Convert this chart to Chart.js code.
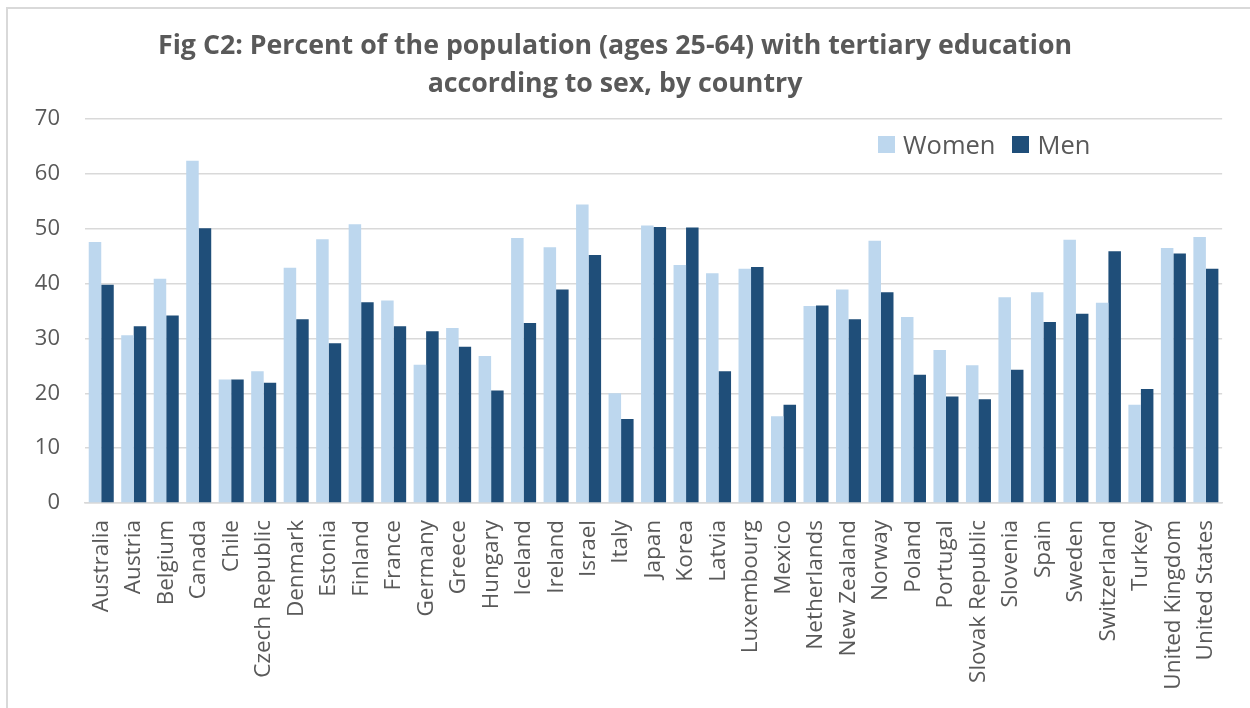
<!DOCTYPE html>
<html>
<head>
<meta charset="utf-8">
<script src="https://cdn.jsdelivr.net/npm/chart.js@4"></script>
<style>
html,body{margin:0;padding:0;background:#fff;overflow:hidden;}
#wrap{position:relative;width:1250px;height:708px;}
#frame{position:absolute;left:6px;top:7px;width:1300px;height:800px;border:2px solid #d9d9d9;box-sizing:border-box;}
#title{position:absolute;left:0;top:25px;width:1230px;text-align:center;font-family:"Open Sans",sans-serif;font-weight:bold;font-size:26px;line-height:38px;color:#595959;}
#title div{display:block;white-space:nowrap;}
#legend{position:absolute;left:878px;top:127px;font-family:"Open Sans",sans-serif;font-size:25.5px;color:#595959;display:flex;align-items:center;white-space:nowrap;}
#legend .sw{display:inline-block;width:17px;height:17px;margin-right:8px;}
#legend .item{display:flex;align-items:center;margin-right:17px;}
canvas{position:absolute;left:0;top:0;}
</style>
</head>
<body>
<div id="wrap">
<div id="frame"></div>
<canvas id="c" width="1250" height="708"></canvas>
<div id="title"><div id="t1">Fig C2: Percent of the population (ages 25-64) with tertiary education</div><div id="t2">according to sex, by country</div></div>
<div id="legend"></div>
</div>
<script>
const categories = ["Australia","Austria","Belgium","Canada","Chile","Czech Republic","Denmark","Estonia","Finland","France","Germany","Greece","Hungary","Iceland","Ireland","Israel","Italy","Japan","Korea","Latvia","Luxembourg","Mexico","Netherlands","New Zealand","Norway","Poland","Portugal","Slovak Republic","Slovenia","Spain","Sweden","Switzerland","Turkey","United Kingdom","United States"];
const women = [47.6,30.6,40.9,62.4,22.5,24.0,42.9,48.1,50.8,36.9,25.2,31.9,26.8,48.3,46.6,54.4,20.0,50.6,43.4,41.9,42.7,15.8,35.9,38.9,47.8,33.9,27.9,25.1,37.5,38.4,48.0,36.5,17.9,46.5,48.5];
const men = [39.8,32.2,34.2,50.1,22.5,21.9,33.5,29.1,36.6,32.2,31.3,28.5,20.5,32.8,38.9,45.2,15.3,50.3,50.2,24.0,43.0,17.9,36.0,33.5,38.4,23.4,19.4,18.9,24.3,33.0,34.5,45.9,20.8,45.5,42.7];
const seriesNames = ["Women","Men"];
const seriesColors = ["#BDD7EE","#1F4E79"];
const yTicks = [0,10,20,30,40,50,60,70];

// condense title to the reference's narrow bold look
(function(){
  const t1=document.getElementById('t1'), t2=document.getElementById('t2');
  const r=document.createRange(); r.selectNodeContents(t1);
  const w=r.getBoundingClientRect().width;
  const k=914/w;
  [t1,t2].forEach(el=>{el.style.transform='scaleX('+k+')';el.style.transformOrigin='615px 0';});
})();

const leg = document.getElementById('legend');
seriesNames.forEach((n,i)=>{
  const it=document.createElement('span');it.className='item';
  const sw=document.createElement('span');sw.className='sw';sw.style.background=seriesColors[i];
  it.appendChild(sw);it.appendChild(document.createTextNode(n));leg.appendChild(it);
});

new Chart(document.getElementById('c'),{
  type:'bar',
  data:{labels:categories,datasets:[
    {label:seriesNames[0],data:women,backgroundColor:seriesColors[0],barPercentage:1,categoryPercentage:0.77},
    {label:seriesNames[1],data:men,backgroundColor:seriesColors[1],barPercentage:1,categoryPercentage:0.77}
  ]},
  options:{
    responsive:false,animation:false,
    layout:{padding:{left:8,top:119,right:8,bottom:0}},
    plugins:{legend:{display:false},title:{display:false},tooltip:{enabled:false}},
    scales:{
      y:{min:0,max:70,
        afterBuildTicks:s=>{s.ticks=yTicks.map(v=>({value:v}));},
        afterFit:s=>{s.width=77;},
        grid:{color:'#d9d9d9',lineWidth:1.5,drawTicks:false},
        border:{display:false},
        ticks:{padding:25,color:'#595959',font:{family:'Open Sans',size:22}}
      },
      x:{
        afterFit:s=>{s.height=205;},
        grid:{display:false,drawTicks:false},
        border:{display:true,color:'#d9d9d9',width:1.5},
        ticks:{minRotation:90,maxRotation:90,autoSkip:false,padding:17,color:'#595959',font:{family:'Open Sans',size:22.5}}
      }
    }
  }
});
</script>
</body>
</html>
